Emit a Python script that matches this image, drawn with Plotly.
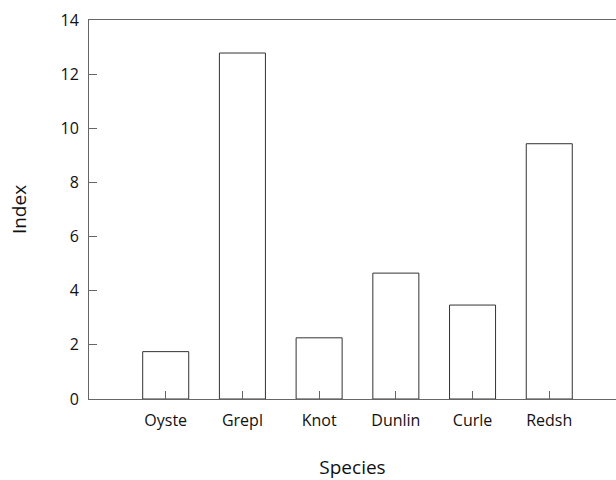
import plotly.graph_objects as go

species = ["Oyste", "Grepl", "Knot", "Dunlin", "Curle", "Redsh"]
index_values = [1.75, 12.78, 2.26, 4.65, 3.47, 9.43]
y_ticks = [0, 2, 4, 6, 8, 10, 12, 14]

FONT = "Open Sans"
AX = "#666666"

fig = go.Figure()
fig.add_trace(go.Bar(
    x=list(range(len(species))),
    y=index_values,
    width=0.6,
    marker=dict(color="white", line=dict(color="#333333", width=1)),
    showlegend=False,
))

fig.update_layout(
    width=616, height=480,
    margin=dict(l=89, r=0, t=20, b=81),
    paper_bgcolor="white", plot_bgcolor="white",
    font=dict(family=FONT, size=16, color="#111111"),
    xaxis=dict(
        range=[-1, 5.87],
        tickmode="array", tickvals=list(range(len(species))), ticktext=species,
        ticks="inside", ticklen=8, tickcolor=AX, tickwidth=1,
        ticklabelstandoff=7,
        showline=True, linecolor=AX, linewidth=1, mirror=True,
        showgrid=False, zeroline=False,
        title=dict(text="Species", standoff=30),
        automargin=False,
    ),
    yaxis=dict(
        range=[0, 14],
        tickmode="array", tickvals=y_ticks,
        ticks="inside", ticklen=8, tickcolor=AX, tickwidth=1,
        ticklabelstandoff=6,
        showline=True, linecolor=AX, linewidth=1,
        showgrid=False, zeroline=False,
        title=dict(text="Index", standoff=28),
        automargin=False,
    ),
)

fig.write_html(
    "out.html",
    config={"displayModeBar": False},
    post_script="document.body.style.margin='0';document.body.style.padding='0';",
)
